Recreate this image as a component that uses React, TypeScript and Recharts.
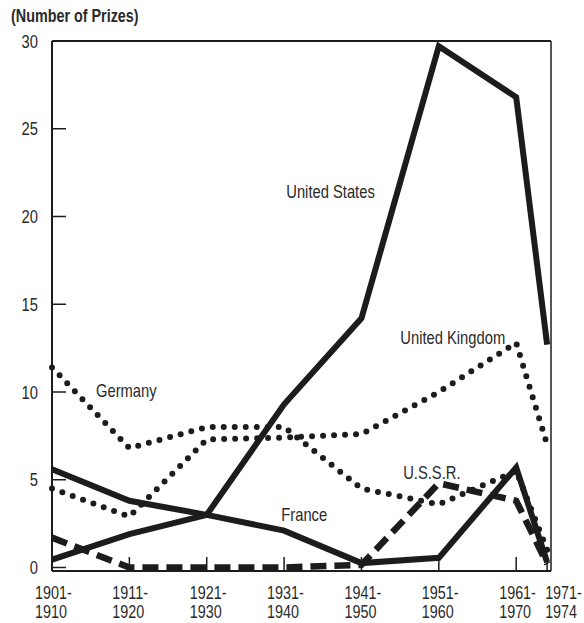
import React from 'react';
import { LineChart, Line, XAxis, YAxis, ReferenceDot } from 'recharts';

// Periods (x categories) and the end year of each period, used as the x value
const periods = ['1901-1910', '1911-1920', '1921-1930', '1931-1940', '1941-1950', '1951-1960', '1961-1970', '1971-1974'];
const periodEnd = [1910, 1920, 1930, 1940, 1950, 1960, 1970, 1974];

// Number of Nobel prizes per period
const unitedStates = [0.45, 1.9, 3.0, 9.3, 14.2, 29.7, 26.8, 12.7];
const france = [5.6, 3.8, 3.0, 2.1, 0.25, 0.55, 5.7, 0.3];
const ussr = [1.7, 0, 0, 0, 0.15, 4.8, 3.8, 0.2];
const germany = [11.4, 6.8, 8.0, 8.0, 4.5, 3.6, 5.5, 1.0];
const unitedKingdom = [4.5, 2.9, 7.3, 7.4, 7.6, 10.0, 12.8, 7.0];

const yTicks = [0, 5, 10, 15, 20, 25, 30];

// Series name labels placed at data coordinates [period end year, prizes]
const seriesLabels = [
  { text: 'United States', x: 1946.0, y: 21.4 },
  { text: 'United Kingdom', x: 1961.8, y: 13.1 },
  { text: 'Germany', x: 1919.6, y: 10.1 },
  { text: 'U.S.S.R.', x: 1959.1, y: 5.4 },
  { text: 'France', x: 1942.6, y: 3.05 },
];

const data = periods.map((p, i) => ({
  period: p,
  end: periodEnd[i],
  us: unitedStates[i],
  fr: france[i],
  su: ussr[i],
  de: germany[i],
  uk: unitedKingdom[i],
}));

const FONT = '"Liberation Sans", Arial, sans-serif';
const NARROW = 0.82;
const INK = '#1c1c1c';
const TEXT = '#2a2a2a';

// Horizontally condensed text (Arial Narrow look)
const NarrowText = ({ x, y, anchor, size, weight, children }: any) => (
  <text
    transform={`translate(${x},${y}) scale(${NARROW},1)`}
    x={0}
    y={0}
    fill={TEXT}
    fontSize={size}
    fontWeight={weight || 'normal'}
    fontFamily={FONT}
    textAnchor={anchor}
    dominantBaseline="central"
  >
    {children}
  </text>
);

const XTick = (props: any) => {
  const { x, y, payload } = props;
  const idx = periodEnd.indexOf(payload.value);
  const label = periods[idx] || '';
  const [a, b] = label.split('-');
  const last = idx === periodEnd.length - 1;
  const tx = last ? x - 2 : x - 17;
  return (
    <g>
      <NarrowText x={tx} y={y} anchor="start" size={17.5}>{a + '-'}</NarrowText>
      <NarrowText x={tx} y={y + 19} anchor="start" size={17.5}>{b}</NarrowText>
    </g>
  );
};

const YTick = (props: any) => {
  const { x, y, payload } = props;
  return <NarrowText x={x} y={y} anchor="end" size={18}>{String(payload.value)}</NarrowText>;
};

const NameLabel = (props: any) => {
  const { viewBox, value } = props;
  const cx = viewBox.x + (viewBox.width || 0) / 2;
  const cy = viewBox.y + (viewBox.height || 0) / 2;
  return <NarrowText x={cx} y={cy} anchor="middle" size={18}>{value}</NarrowText>;
};

export default function App() {
  const domainX: [number, number] = [1910, 1974.5];
  const domainY: [number, number] = [-0.2, 30];
  return (
    <div style={{ position: 'absolute', left: 0, top: 0, width: 584, height: 623, background: '#fff' }}>
      <div
        style={{
          position: 'absolute',
          left: 11,
          top: 6,
          fontFamily: FONT,
          fontSize: 17.5,
          fontWeight: 'bold',
          color: TEXT,
          whiteSpace: 'nowrap',
          lineHeight: '20px',
          transform: `scaleX(${NARROW})`,
          transformOrigin: 'left top',
        }}
      >
        (Number of Prizes)
      </div>
      <LineChart
        width={584}
        height={623}
        data={data}
        margin={{ top: 40, right: 32, left: 51, bottom: 51 }}
      >
        <XAxis
          dataKey="end"
          type="number"
          domain={domainX}
          ticks={periodEnd}
          interval={0}
          height={1}
          tickSize={-14}
          tickMargin={36}
          tick={<XTick />}
          tickLine={{ stroke: INK, strokeWidth: 1.5 }}
          axisLine={{ stroke: INK, strokeWidth: 2 }}
        />
        <XAxis
          xAxisId="top"
          orientation="top"
          type="number"
          domain={domainX}
          height={1}
          tick={false}
          tickLine={false}
          axisLine={{ stroke: INK, strokeWidth: 2 }}
        />
        <YAxis
          type="number"
          domain={domainY}
          ticks={yTicks}
          interval={0}
          width={1}
          tickSize={-14}
          tickMargin={28}
          tick={<YTick />}
          tickLine={{ stroke: INK, strokeWidth: 1.5 }}
          axisLine={{ stroke: INK, strokeWidth: 2 }}
        />
        <YAxis
          yAxisId="right"
          orientation="right"
          type="number"
          domain={domainY}
          width={1}
          tick={false}
          tickLine={false}
          axisLine={{ stroke: INK, strokeWidth: 1.5 }}
        />
        <Line
          dataKey="uk"
          type="linear"
          stroke={INK}
          strokeWidth={6}
          strokeDasharray="0 11"
          strokeLinecap="round"
          dot={false}
          activeDot={false}
          isAnimationActive={false}
        />
        <Line
          dataKey="de"
          type="linear"
          stroke={INK}
          strokeWidth={6}
          strokeDasharray="0 11"
          strokeLinecap="round"
          dot={false}
          activeDot={false}
          isAnimationActive={false}
        />
        <Line
          dataKey="su"
          type="linear"
          stroke={INK}
          strokeWidth={6.5}
          strokeDasharray="16 8"
          dot={false}
          activeDot={false}
          isAnimationActive={false}
        />
        <Line
          dataKey="fr"
          type="linear"
          stroke={INK}
          strokeWidth={6}
          dot={false}
          activeDot={false}
          isAnimationActive={false}
        />
        <Line
          dataKey="us"
          type="linear"
          stroke={INK}
          strokeWidth={6}
          dot={false}
          activeDot={false}
          isAnimationActive={false}
        />
        {seriesLabels.map((l) => (
          <ReferenceDot
            key={l.text}
            x={l.x}
            y={l.y}
            r={0}
            fill="none"
            stroke="none"
            label={<NameLabel value={l.text} />}
          />
        ))}
      </LineChart>
    </div>
  );
}
